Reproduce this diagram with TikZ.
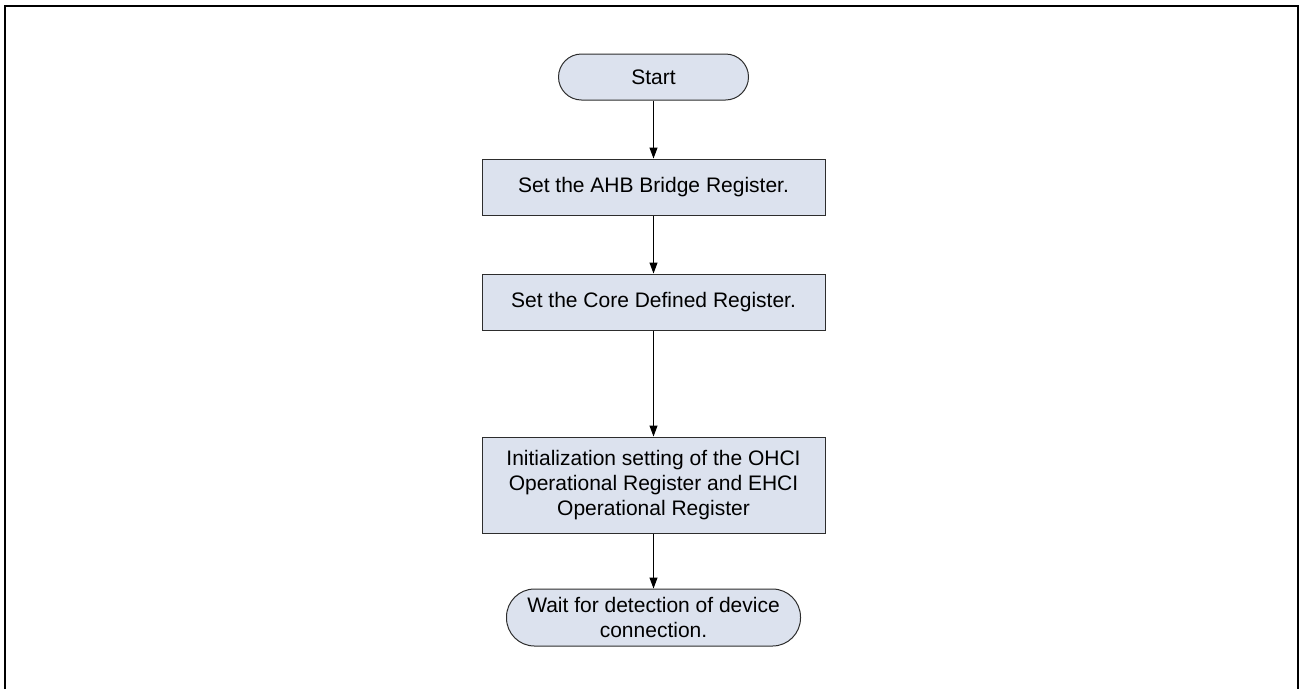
\documentclass[tikz,border=0pt]{standalone}
\usepackage{fontspec}
\setmainfont{Liberation Sans}
\usetikzlibrary{positioning,arrows.meta}
\definecolor{boxfill}{RGB}{220,226,238}
\definecolor{boxline}{RGB}{45,45,45}

\begin{document}
\begin{tikzpicture}[x=1pt, y=-1pt, ->, >={Triangle[length=11pt,width=8pt]}, line width=1pt,
  terminal/.style={draw=boxline, fill=boxfill, rounded corners=23pt, inner sep=0pt,
    minimum width=190pt, minimum height=46pt, align=center, font=\fontsize{21}{25}\selectfont},
  process/.style={draw=boxline, fill=boxfill, inner sep=0pt,
    minimum width=343pt, minimum height=56pt, align=center, font=\fontsize{21}{25}\selectfont}]

  \useasboundingbox (0,0) rectangle (1300,689);
  \draw[-, line width=2pt] (4.5,689) -- (4.5,5.5) -- (1297.5,5.5) -- (1297.5,689);

  \node[terminal] (start) at (653.5,77) {Start};
  \node[process] (ahb) [below=58pt of start] {Set the AHB Bridge Register.};
  \node[process] (core) [below=58pt of ahb] {Set the Core Defined Register.};
  \node[process, minimum height=96pt] (init) [below=106pt of core]
    {Initialization setting of the OHCI\\Operational Register and EHCI\\Operational Register};
  \node[terminal, minimum width=294pt, minimum height=57pt, rounded corners=28pt] (wait)
    [below=55pt of init] {Wait for detection of device\\connection.};

  \draw (start) -- (ahb);
  \draw (ahb) -- (core);
  \draw (core) -- (init);
  \draw (init) -- (wait);

\end{tikzpicture}
\end{document}
